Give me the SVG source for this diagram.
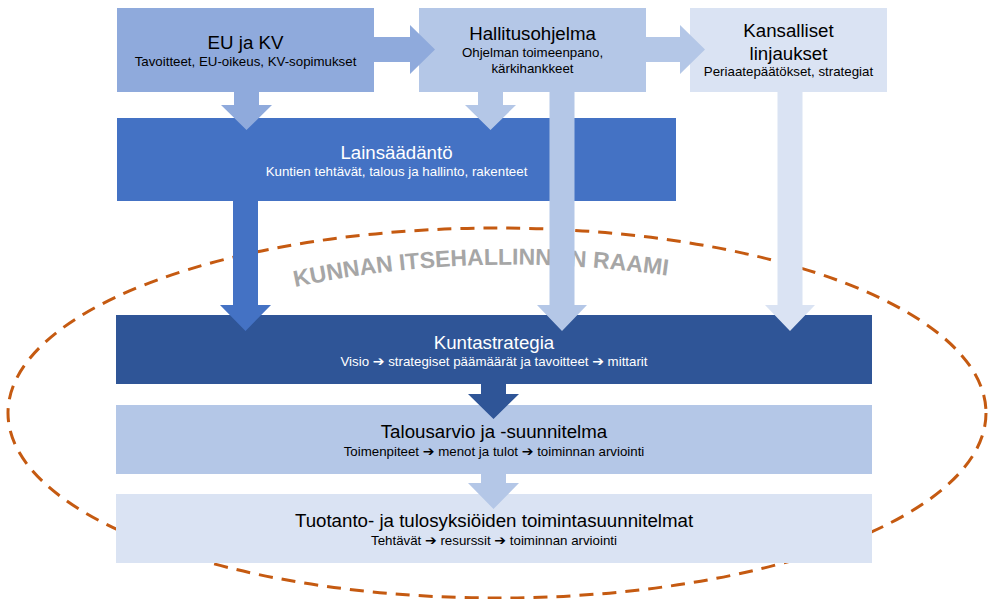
<svg xmlns="http://www.w3.org/2000/svg" width="988" height="599" viewBox="0 0 988 599">
<style>
text{font-family:"Liberation Sans",Arial,sans-serif;text-anchor:middle}
.t{font-size:18.7px}
.s{font-size:13.3px}
.d{fill:#000}
.w{fill:#fff}
.ar{font-family:"DejaVu Sans",sans-serif;font-weight:bold;font-size:14px}
</style>
<rect width="988" height="599" fill="#fff"/>
<g id="frame">
<ellipse cx="497" cy="413" rx="489" ry="185" fill="none" stroke="#C55A11" stroke-width="3" stroke-dasharray="14 9"/>
<path id="arc" d="M 295 287 Q 480 248 678 277" fill="none"/>
<text font-size="23" font-weight="bold" fill="#A6A6A6" style="text-anchor:start"><textPath href="#arc">KUNNAN ITSEHALLINNON RAAMI</textPath></text>
</g>
<g id="eu">
<rect x="117" y="8" width="257" height="84" fill="#8FAADC"/>
<text class="t d" x="245.5" y="49">EU ja KV</text>
<text class="s d" x="245.5" y="66">Tavoitteet, EU-oikeus, KV-sopimukset</text>
</g>
<g id="hallitus">
<rect x="419" y="8" width="227" height="84" fill="#B4C7E7"/>
<text class="t d" x="532.5" y="40">Hallitusohjelma</text>
<text class="s d" x="532.5" y="57">Ohjelman toimeenpano,</text>
<text class="s d" x="532.5" y="73">kärkihankkeet</text>
</g>
<g id="kansalliset">
<rect x="690" y="8" width="197" height="84" fill="#DAE3F3"/>
<text class="t d" x="788.5" y="37">Kansalliset</text>
<text class="t d" x="788.5" y="60">linjaukset</text>
<text class="s d" x="788.5" y="76">Periaatepäätökset, strategiat</text>
</g>
<g id="lainsaadanto">
<rect x="117" y="118" width="559" height="83" fill="#4472C4"/>
<text class="t w" x="396.5" y="159">Lainsäädäntö</text>
<text class="s w" x="396.5" y="176">Kuntien tehtävät, talous ja hallinto, rakenteet</text>
</g>
<g id="kuntastrategia">
<rect x="116" y="315" width="756" height="69" fill="#2F5597"/>
<text class="t w" x="494" y="349">Kuntastrategia</text>
<text class="s w" x="494" y="366">Visio <tspan class="ar">➔</tspan> strategiset päämäärät ja tavoitteet <tspan class="ar">➔</tspan> mittarit</text>
</g>
<g id="talousarvio">
<rect x="116" y="405" width="756" height="69" fill="#B4C7E7"/>
<text class="t d" x="494" y="438">Talousarvio ja -suunnitelma</text>
<text class="s d" x="494" y="456">Toimenpiteet <tspan class="ar">➔</tspan> menot ja tulot <tspan class="ar">➔</tspan> toiminnan arviointi</text>
</g>
<g id="tuotanto">
<rect x="116" y="494" width="756" height="69" fill="#DAE3F3"/>
<text class="t d" x="494" y="527">Tuotanto- ja tulosyksiöiden toimintasuunnitelmat</text>
<text class="s d" x="494" y="545">Tehtävät <tspan class="ar">➔</tspan> resurssit <tspan class="ar">➔</tspan> toiminnan arviointi</text>
</g>
<g id="connectors">
<polygon fill="#8FAADC" points="374,37 410,37 410,25 435,49.5 410,74 410,62 374,62"/>
<polygon fill="#B4C7E7" points="646,37 680,37 680,25 705,49.5 680,74 680,62 646,62"/>
<polygon fill="#8FAADC" points="234,92 259,92 259,105 272,105 246.5,130 221,105 234,105"/>
<polygon fill="#B4C7E7" points="478,92 503,92 503,105 516,105 490.5,130 465,105 478,105"/>
<polygon fill="#4472C4" points="233,201 258,201 258,305 271,305 245.5,331 220,305 233,305"/>
<polygon fill="#B4C7E7" points="549.5,92 574.5,92 574.5,305 587,305 562,331 537,305 549.5,305"/>
<polygon fill="#DAE3F3" points="777.5,92 802.5,92 802.5,305 815,305 790,331 765,305 777.5,305"/>
<polygon fill="#2F5597" points="481,384 506,384 506,394 519,394 493.5,419 468,394 481,394"/>
<polygon fill="#B4C7E7" points="481,474 506,474 506,483 519,483 493.5,509 468,483 481,483"/>
</g>
</svg>
